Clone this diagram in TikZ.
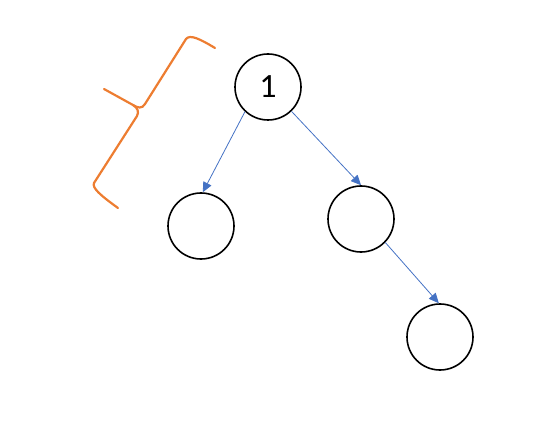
\documentclass[tikz,border=0pt]{standalone}
\usepackage{fontspec}
\setmainfont{Carlito}
\usetikzlibrary{arrows.meta}
\definecolor{edgeblue}{HTML}{4472C4}
\definecolor{braceorange}{HTML}{ED7D31}
\tikzset{
  treenode/.style={circle, draw=black, line width=1.6pt, minimum size=66pt, inner sep=0pt, font=\fontsize{34}{34}\selectfont},
  edge/.style={draw=edgeblue, line width=0.8pt, -{Triangle[length=10pt,width=9pt]}},
  bracestyle/.style={draw=braceorange, line width=2.2pt, line join=round, line cap=round}
}
\begin{document}
\begin{tikzpicture}[x=1pt,y=-1pt]
\useasboundingbox (0,0) rectangle (536,441);
\node[treenode] (n1) at (268,87) {1};
\node[treenode] (n2) at (201,226) {};
\node[treenode] (n3) at (361,219) {};
\node[treenode] (n4) at (440,337) {};
\draw[edge] (n1.227) -- (n2.87);
\draw[edge] (n1.314) -- (n3.90);
\draw[edge] (n3.316) -- (n4.92);
\coordinate (b1) at (215,48);
\coordinate (b2) at (104,89);
\coordinate (b3) at (118,208);
\draw[bracestyle] (b1) .. controls (200,39) and (190,34) .. (186,39) -- (145,104) .. controls (142,109) and (138,108) .. (133,105) -- (b2);
\draw[bracestyle] (133,105) .. controls (138,108) and (139,112) .. (137,116) -- (94,183) .. controls (92,188) and (100,195) .. (b3);
\end{tikzpicture}
\end{document}
